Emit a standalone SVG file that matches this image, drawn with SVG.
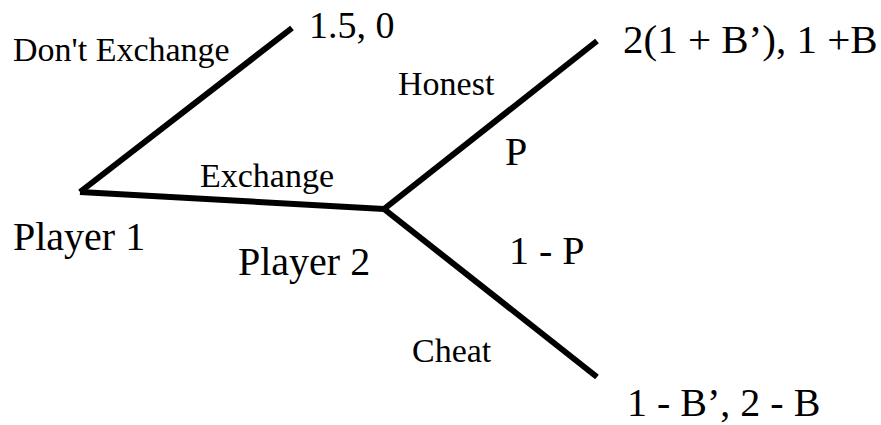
<svg xmlns="http://www.w3.org/2000/svg" width="881" height="425" viewBox="0 0 881 425">
<defs>
<style>
.t{font-family:'Liberation Serif','Tinos','Nimbus Roman','Times New Roman','DejaVu Serif',serif;fill:#000}
.b{font-size:40px}
.s{font-size:34px}
.e{stroke:#000;stroke-width:6;fill:none;stroke-linecap:butt}
</style>
</defs>
<rect width="881" height="425" fill="#fff"/>
<g id="connectors">
<line class="e" x1="80" y1="192" x2="292" y2="28"/>
<line class="e" x1="80" y1="192" x2="384" y2="209"/>
<line class="e" x1="384" y1="209" x2="597" y2="41"/>
<line class="e" x1="384" y1="209" x2="597" y2="377"/>
<text class="t s" font-family="Liberation Serif, serif" x="13" y="61">Don't Exchange</text>
<text class="t s" font-family="Liberation Serif, serif" x="200" y="187">Exchange</text>
<text class="t s" font-family="Liberation Serif, serif" x="398" y="95">Honest</text>
<text class="t b" font-family="Liberation Serif, serif" x="505" y="165">P</text>
<text class="t b" font-family="Liberation Serif, serif" x="509" y="264">1 - P</text>
<text class="t s" font-family="Liberation Serif, serif" x="412" y="362">Cheat</text>
</g>
<g id="player1"><text class="t b" font-family="Liberation Serif, serif" x="13" y="250">Player 1</text></g>
<g id="player2"><text class="t b" font-family="Liberation Serif, serif" x="238" y="275">Player 2</text></g>
<g id="payoff-dont"><text class="t b" font-family="Liberation Serif, serif" x="309" y="38" style="font-size:38px">1.5, 0</text></g>
<g id="payoff-honest"><text class="t b" font-family="Liberation Serif, serif" x="623" y="53" style="font-size:41px">2(1 + B’), 1 +B</text></g>
<g id="payoff-cheat"><text class="t b" font-family="Liberation Serif, serif" x="627" y="416">1 - B’, 2 - B</text></g>
</svg>
